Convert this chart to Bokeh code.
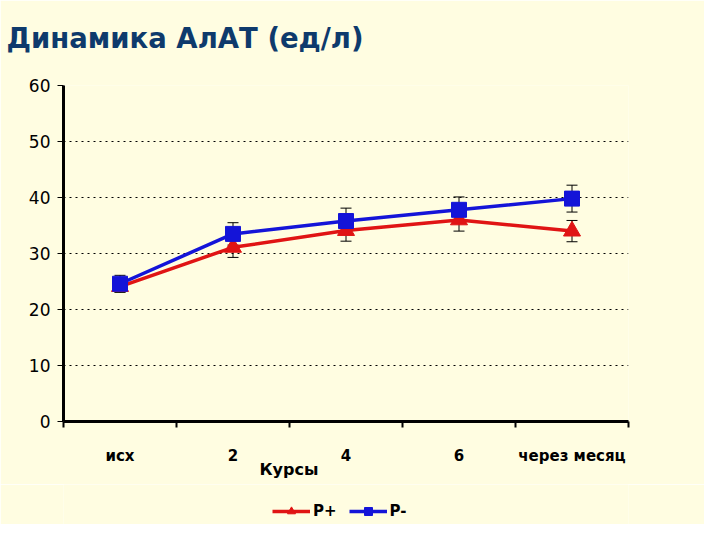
from bokeh.plotting import figure
from bokeh.layouts import column
from bokeh.models import (Range1d, FixedTicker, Legend, LegendItem, Whisker, TeeHead,
                          ColumnDataSource, Title)
from bokeh.embed import file_html
from bokeh.resources import INLINE

categories = ["исх", "2", "4", "6", "через месяц"]
p_plus = [24.1, 31.1, 34.1, 36.0, 34.0]
p_plus_err = [1.0, 1.8, 1.9, 2.0, 1.9]
p_minus = [24.6, 33.5, 35.8, 37.8, 39.8]
p_minus_err = [1.5, 2.0, 2.3, 2.3, 2.4]
y_ticks = [0, 10, 20, 30, 40, 50, 60]
series_names = ["P+", "P-"]
title_text = "Динамика АлАТ (ед/л)"

BG = "#FFFDE1"
RED = "#E01414"
BLUE = "#1414D8"

xpos = [i + 0.5 for i in range(len(categories))]

p = figure(width=704, height=484, output_backend="svg", toolbar_location=None, title=None,
           x_range=Range1d(0, len(categories)), y_range=Range1d(0, 60),
           background_fill_color=BG, border_fill_color=BG,
           min_border_left=63, min_border_right=76, min_border_top=85, min_border_bottom=63)
p.outline_line_color = None

# spacer (nearest the frame) then the main title above it
p.add_layout(Title(text=" ", text_font_size="10px", standoff=17), "above")
p.add_layout(Title(text=title_text, text_font="DejaVu Sans", text_font_size="27.5px",
                   text_font_style="bold", text_color="#0E3A6C", align="left",
                   vertical_align="top", offset=-57, standoff=0), "above")

# axes
p.yaxis.ticker = FixedTicker(ticks=y_ticks)
p.yaxis.axis_line_width = 3
p.yaxis.axis_line_color = "black"
p.yaxis.major_tick_out = 6
p.yaxis.major_tick_in = 0
p.yaxis.minor_tick_line_color = None
p.yaxis.major_label_text_font = "DejaVu Sans"
p.yaxis.major_label_text_font_size = "17px"
p.yaxis.major_label_text_color = "black"
p.yaxis.major_label_standoff = 7

p.xaxis.ticker = FixedTicker(ticks=xpos, minor_ticks=list(range(len(categories) + 1)))
p.xaxis.major_label_overrides = {x: c for x, c in zip(xpos, categories)}
p.xaxis.axis_line_width = 3
p.xaxis.axis_line_color = "black"
p.xaxis.major_tick_out = 0
p.xaxis.major_tick_in = 0
p.xaxis.minor_tick_out = 6
p.xaxis.minor_tick_in = 0
p.xaxis.minor_tick_line_width = 2
p.xaxis.minor_tick_line_color = "black"
p.xaxis.major_label_text_font = "DejaVu Sans"
p.xaxis.major_label_text_font_size = "15px"
p.xaxis.major_label_text_font_style = "bold"
p.xaxis.major_label_text_color = "black"
p.xaxis.major_label_standoff = 19

p.xgrid.visible = False
p.ygrid.ticker = FixedTicker(ticks=y_ticks[1:])
p.ygrid.grid_line_color = "black"
p.ygrid.grid_line_dash = "2 4"
p.ygrid.grid_line_width = 1

src = ColumnDataSource(dict(x=xpos, yp=p_plus, ypl=[v - e for v, e in zip(p_plus, p_plus_err)],
                            ypu=[v + e for v, e in zip(p_plus, p_plus_err)],
                            ym=p_minus, yml=[v - e for v, e in zip(p_minus, p_minus_err)],
                            ymu=[v + e for v, e in zip(p_minus, p_minus_err)]))

for lo, up in (("ypl", "ypu"), ("yml", "ymu")):
    w = Whisker(source=src, base="x", lower=lo, upper=up, line_color="black", line_width=1,
                upper_head=TeeHead(size=11, line_color="black", line_width=1),
                lower_head=TeeHead(size=11, line_color="black", line_width=1))
    p.add_layout(w)

lp = p.line("x", "yp", source=src, line_color=RED, line_width=3.5)
sp = p.scatter("x", "yp", source=src, marker="triangle", size=17, fill_color=RED, line_color=RED)
lm = p.line("x", "ym", source=src, line_color=BLUE, line_width=3.5)
sm = p.scatter("x", "ym", source=src, marker="square", size=15, fill_color=BLUE, line_color=BLUE)

xt = Title(text="Курсы", text_font="DejaVu Sans", text_font_size="16px", text_font_style="bold",
           text_color="black", align="left", offset=196, standoff=-22)
p.add_layout(xt, "below")

# legend strip below the chart (its renderers use the same data, lying outside this strip's ranges)
p2 = figure(width=704, height=40, output_backend="svg", toolbar_location=None,
            x_range=Range1d(0, 1), y_range=Range1d(0, 1), x_axis_type=None, y_axis_type=None,
            background_fill_color=BG, border_fill_color=BG,
            min_border_left=0, min_border_right=0, min_border_top=0, min_border_bottom=0)
p2.outline_line_color = None
p2.xgrid.visible = False
p2.ygrid.visible = False
l1 = p2.line("x", "yp", source=src, line_color=RED, line_width=3.5)
s1 = p2.scatter("x", "yp", source=src, marker="triangle", size=12, fill_color=RED, line_color=RED)
l2 = p2.line("x", "ym", source=src, line_color=BLUE, line_width=3.5)
s2 = p2.scatter("x", "ym", source=src, marker="square", size=11, fill_color=BLUE, line_color=BLUE)
legend = Legend(items=[LegendItem(label=series_names[0], renderers=[l1, s1]),
                       LegendItem(label=series_names[1], renderers=[l2, s2])],
                orientation="horizontal", location=(205, -1),
                background_fill_alpha=0, border_line_alpha=0,
                label_text_font="DejaVu Sans", label_text_font_size="15px",
                label_text_font_style="bold", label_text_color="black",
                glyph_width=38, spacing=12, margin=0, padding=4, label_standoff=3)
p2.add_layout(legend)

layout = column(p, p2, spacing=0)
open("out.html", "w").write(file_html(layout, INLINE))
